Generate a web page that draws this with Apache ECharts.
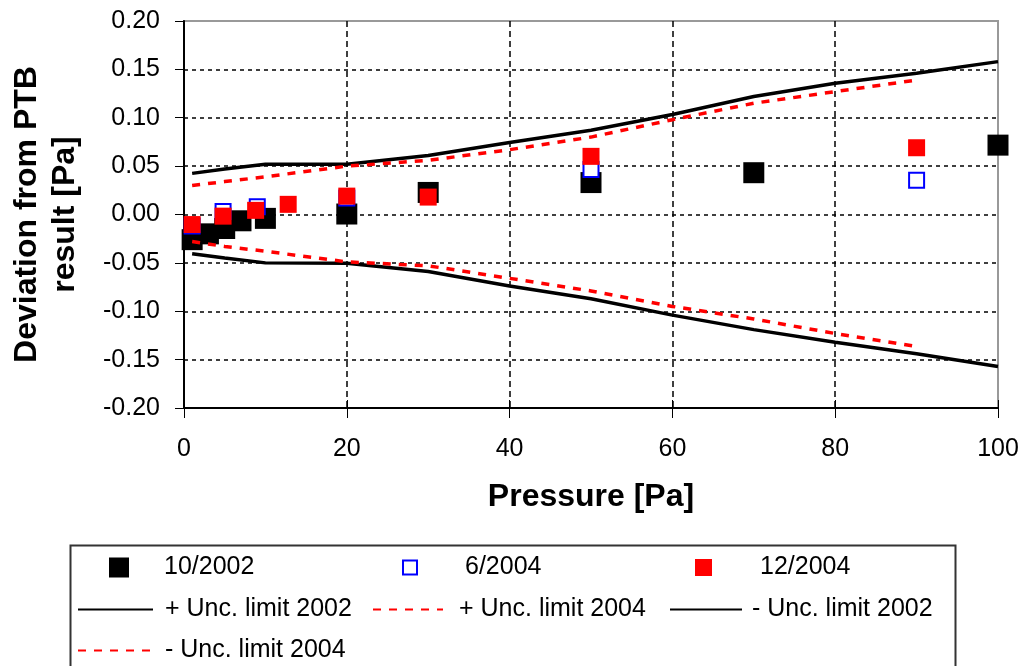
<!DOCTYPE html>
<html>
<head>
<meta charset="utf-8">
<script src="https://cdn.jsdelivr.net/npm/echarts@6/dist/echarts.min.js"></script>
<style>
html,body{margin:0;padding:0;background:#fff;}
#chart{width:1027px;height:666px;}
</style>
</head>
<body>
<div id="chart"></div>
<script>
// ---- data ----
const x2002 = [1, 3, 5, 7, 10, 20, 30, 50, 70, 100];
const y2002 = [-0.026, -0.020, -0.0145, -0.0065, -0.004, 0.0005, 0.0228, 0.033, 0.0432, 0.0717];

const x062004 = [1, 4.8, 9, 20, 50, 90];
const y062004 = [-0.012, 0.003, 0.008, 0.017, 0.0466, 0.0354];

const x122004 = [1, 4.8, 8.8, 12.8, 20, 30, 50, 90];
const y122004 = [-0.0104, -0.0017, 0.0043, 0.0105, 0.019, 0.018, 0.0601, 0.069];

const xLim2002 = [1, 5, 10, 20, 30, 40, 50, 60, 70, 80, 90, 100];
const yPlus2002 = [0.0425, 0.047, 0.052, 0.052, 0.061, 0.0745, 0.087, 0.1034, 0.122, 0.1357, 0.146, 0.158];
const yMinus2002 = [-0.0405, -0.045, -0.050, -0.0505, -0.059, -0.0738, -0.087, -0.104, -0.119, -0.132, -0.144, -0.157];

const xLim2004 = [1, 5, 10, 20, 30, 40, 50, 60, 70, 80, 90];
const yPlus2004 = [0.030, 0.034, 0.039, 0.050, 0.056, 0.067, 0.080, 0.098, 0.115, 0.127, 0.139];
const yMinus2004 = [-0.028, -0.033, -0.038, -0.049, -0.053, -0.066, -0.079, -0.095, -0.108, -0.123, -0.1365];

const seriesNames = ['10/2002', '6/2004', '12/2004', '+ Unc. limit 2002', '+ Unc. limit 2004', '- Unc. limit 2002', '- Unc. limit 2004'];
const xTicks = [0, 20, 40, 60, 80, 100];

const zip = (xs, ys) => xs.map((x, i) => [x, ys[i]]);

const FONT = 'Liberation Sans';
const txt = {fontFamily: FONT, fontSize: 25, color: '#000'};

// centred square legend icon inside a w x h box (degenerate corner points fix the bounds)
function sqIcon(w, h, s) {
  const a = (w - s) / 2, b = (h - s) / 2;
  return 'path://M0,0L0.001,0 M' + w + ',' + h + 'L' + (w - 0.001) + ',' + h +
    ' M' + a + ',' + b + 'H' + (a + s) + 'V' + (b + s) + 'H' + a + 'Z';
}

function leg(name, left, top, w, h, icon, padLeft) {
  const d = {name: name};
  const o = {
    data: [d], left: left, top: top, itemWidth: w, itemHeight: h,
    padding: 0, orient: 'horizontal', selectedMode: false,
    textStyle: Object.assign({}, txt), symbolKeepAspect: false
  };
  if (icon) d.icon = icon;
  else o.itemStyle = {opacity: 0};
  if (padLeft) o.textStyle.padding = [0, 0, 0, padLeft];
  return o;
}

const chart = echarts.init(document.getElementById('chart'), null, {renderer: 'canvas'});
chart.setOption({
  animation: false,
  backgroundColor: '#fff',
  grid: {left: 182, right: 29, top: 21, bottom: 258, show: true, borderColor: '#999', borderWidth: 2, backgroundColor: 'transparent'},
  xAxis: [{
    type: 'value', min: 0, max: 100, interval: 20,
    name: 'Pressure [Pa]', nameLocation: 'middle', nameGap: 73,
    nameTextStyle: {fontFamily: FONT, fontSize: 32, fontWeight: 'bold', color: '#000'},
    axisLine: {show: true, onZero: false, lineStyle: {color: '#000', width: 2}},
    axisTick: {show: true, inside: false, length: 10, lineStyle: {color: '#000', width: 1}},
    axisLabel: Object.assign({margin: 29, formatter: v => xTicks.includes(v) ? String(v) : ''}, txt),
    splitLine: {show: true, showMaxLine: false, showMinLine: false, lineStyle: {color: '#000', type: [6, 4], width: 1.5}}
  }, {
    type: 'value', min: 0, max: 100, interval: 20, position: 'bottom',
    axisLine: {show: false, onZero: false}, axisLabel: {show: false}, splitLine: {show: false},
    axisTick: {show: true, inside: true, length: 8, lineStyle: {color: '#000', width: 1}}
  }],
  yAxis: {
    type: 'value', min: -0.2, max: 0.2, interval: 0.05,
    name: 'Deviation from PTB\nresult [Pa]', nameLocation: 'middle', nameGap: 100, nameRotate: 90,
    nameTextStyle: {fontFamily: FONT, fontSize: 32, fontWeight: 'bold', color: '#000', lineHeight: 38, align: 'center'},
    axisLine: {show: true, onZero: false, lineStyle: {color: '#000', width: 2}},
    axisTick: {show: true, inside: false, length: 9, lineStyle: {color: '#000', width: 1}},
    axisLabel: Object.assign({margin: 24, formatter: v => v.toFixed(2)}, txt),
    splitLine: {show: true, showMaxLine: false, showMinLine: false, lineStyle: {color: '#000', type: [4, 4], width: 1.5}}
  },
  legend: [
    leg(seriesNames[0], 79, 555, 80, 20, sqIcon(80, 20, 20)),
    leg(seriesNames[1], 359, 555, 100, 16, sqIcon(100, 16, 14)),
    leg(seriesNames[2], 652, 555, 103, 17, sqIcon(103, 17, 17)),
    leg(seriesNames[3], 77, 597, 75, 14, null, 7),
    leg(seriesNames[4], 372, 597, 70, 14, null, 11),
    leg(seriesNames[5], 669, 597, 72, 14, null, 5),
    leg(seriesNames[6], 77, 638, 72, 14, null, 10)
  ],
  graphic: [{
    type: 'rect', left: 68, top: 543, silent: true,
    shape: {width: 885, height: 140},
    style: {fill: 'none', stroke: '#333', lineWidth: 2}
  }],
  series: [
    {name: seriesNames[0], type: 'scatter', symbol: 'rect', symbolSize: 21,
     itemStyle: {color: '#000', opacity: 1}, data: zip(x2002, y2002)},
    {name: seriesNames[1], type: 'scatter', symbol: 'rect', symbolSize: 15,
     itemStyle: {color: '#fff', borderColor: '#0000ff', borderWidth: 2, opacity: 1}, data: zip(x062004, y062004)},
    {name: seriesNames[2], type: 'scatter', symbol: 'rect', symbolSize: 17,
     itemStyle: {color: '#ff0000', opacity: 1}, data: zip(x122004, y122004)},
    {name: seriesNames[3], type: 'line', symbol: 'none', smooth: false,
     lineStyle: {color: '#000', width: 3.5}, itemStyle: {color: '#000'}, data: zip(xLim2002, yPlus2002)},
    {name: seriesNames[4], type: 'line', symbol: 'none', smooth: false,
     lineStyle: {color: '#ff0000', width: 3.5, type: [8, 8]}, itemStyle: {color: '#ff0000'}, data: zip(xLim2004, yPlus2004)},
    {name: seriesNames[5], type: 'line', symbol: 'none', smooth: false,
     lineStyle: {color: '#000', width: 3.5}, itemStyle: {color: '#000'}, data: zip(xLim2002, yMinus2002)},
    {name: seriesNames[6], type: 'line', symbol: 'none', smooth: false,
     lineStyle: {color: '#ff0000', width: 3.5, type: [8, 8]}, itemStyle: {color: '#ff0000'}, data: zip(xLim2004, yMinus2004)}
  ]
});
</script>
</body>
</html>
